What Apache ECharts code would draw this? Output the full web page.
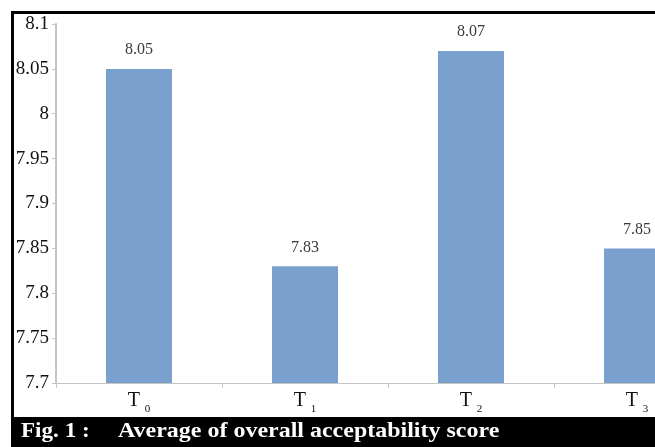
<!DOCTYPE html>
<html>
<head>
<meta charset="utf-8">
<style>
  html, body { margin: 0; padding: 0; background: #fff; overflow: hidden; }
  #chart { width: 800px; height: 447px; }
</style>
<script src="https://cdn.jsdelivr.net/npm/echarts@6/dist/echarts.min.js"></script>
</head>
<body>
<div id="chart"></div>
<script>
// Treatments and their mean overall acceptability scores
const treatments = ['0', '1', '2', '3'];
const scores = [8.05, 7.83, 8.07, 7.85];
const yTicks = { min: 7.7, max: 8.1, step: 0.05 };
const captionLabel = 'Fig. 1 :';
const captionTitle = 'Average of overall acceptability score';

const chart = echarts.init(document.getElementById('chart'), null, { renderer: 'canvas' });

const serif = '"Liberation Serif", "DejaVu Serif", serif';
const captionFont = 'bold 22px "Liberation Serif", serif';

chart.setOption({
  backgroundColor: '#ffffff',
  animation: false,
  grid: { left: 56, top: 24, width: 664, height: 359, containLabel: false },
  xAxis: {
    type: 'category',
    data: treatments,
    axisLine: { lineStyle: { color: '#c4c4c4', width: 1 } },
    axisTick: { show: true, length: 5, lineStyle: { color: '#c4c4c4' } },
    axisLabel: {
      margin: 4,
      formatter: v => '{t|T}{s|' + v + '}',
      rich: {
        t: { fontFamily: serif, fontSize: 20, color: '#111' },
        s: { fontFamily: serif, fontSize: 11, color: '#111', padding: [17, 0, 0, 5] }
      }
    }
  },
  yAxis: {
    type: 'value',
    min: yTicks.min,
    max: yTicks.max,
    interval: yTicks.step,
    axisLine: { show: true, lineStyle: { color: '#c4c4c4', width: 2 } },
    axisTick: { show: true, length: 4, lineStyle: { color: '#c4c4c4' } },
    splitLine: { show: false },
    axisLabel: {
      margin: 7,
      fontFamily: serif,
      fontSize: 19,
      color: '#111',
      formatter: v => String(parseFloat(v.toFixed(2)))
    }
  },
  series: [{
    type: 'bar',
    data: scores,
    barWidth: 66,
    itemStyle: { color: '#7aa0cd' },
    label: {
      show: true,
      position: 'top',
      distance: 11,
      fontFamily: serif,
      fontSize: 16,
      color: '#3a3a3a',
      formatter: p => p.value.toFixed(2)
    }
  }],
  graphic: [
    // outer frame
    { type: 'rect', shape: { x: 11, y: 11, width: 800, height: 3 }, style: { fill: '#000' }, silent: true },
    { type: 'rect', shape: { x: 11, y: 11, width: 3, height: 440 }, style: { fill: '#000' }, silent: true },
    // caption band
    { type: 'rect', shape: { x: 11, y: 417, width: 800, height: 40 }, style: { fill: '#000' }, silent: true },
    {
      type: 'text', x: 21, y: 420, scaleX: 1.05, silent: true,
      style: { text: captionLabel, fill: '#fff', font: captionFont }
    },
    {
      type: 'text', x: 118, y: 420, scaleX: 1.09, silent: true,
      style: { text: captionTitle, fill: '#fff', font: captionFont }
    }
  ]
});
</script>
</body>
</html>
